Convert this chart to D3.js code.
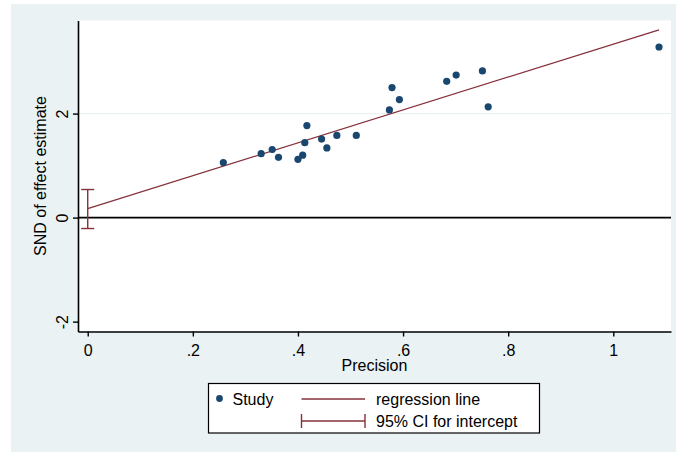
<!DOCTYPE html>
<html><head><meta charset="utf-8">
<script src="https://cdn.jsdelivr.net/npm/d3@7/dist/d3.min.js"></script>
<style>
html,body{margin:0;padding:0;background:#fff;}
svg text{font-family:"Liberation Sans",Arial,sans-serif;fill:#000;}
</style></head>
<body><svg id="c" width="676" height="452"></svg>
<script>
// Data
const precision = [0.258,0.330,0.351,0.363,0.400,0.409,0.413,0.417,0.445,0.455,0.474,0.511,0.574,0.579,0.593,0.683,0.701,0.751,0.762,1.087];
const snd       = [1.06,1.23,1.31,1.16,1.12,1.20,1.44,1.77,1.51,1.34,1.58,1.58,2.07,2.50,2.27,2.62,2.74,2.82,2.13,3.28];
const intercept = 0.173;
const slope = 3.163;
const ciIntercept = [-0.21, 0.54];
const xTicks = [0,0.2,0.4,0.6,0.8,1];
const xTickLabels = ["0",".2",".4",".6",".8","1"];
const yTicks = [-2,0,2];
const yTickLabels = ["-2","0","2"];
const gridValues = [2];
const legendLabels = ["Study","regression line","95% CI for intercept"];

const navy = "#1a476f", maroon = "#85303a";
const svg = d3.select("#c");
svg.append("rect").attr("x",11).attr("y",4).attr("width",665).attr("height",448).attr("fill","#eaf2f3");

const L=78, R=671, T=20.5, B=331.5;
const x = d3.scaleLinear().domain([-0.0185,1.1098]).range([L,R]);
const y = d3.scaleLinear().domain([-2.19,3.79]).range([B,T]);

svg.append("rect").attr("x",L).attr("y",T).attr("width",R-L).attr("height",B-T).attr("fill","#fff");

// gridline
svg.selectAll(".grid").data(gridValues).enter().append("line")
  .attr("x1",L).attr("x2",R).attr("y1",d=>y(d)).attr("y2",d=>y(d))
  .attr("stroke","#eaf2f3").attr("stroke-width",1.2);

// zero line
svg.append("line").attr("x1",L).attr("x2",R).attr("y1",y(0)).attr("y2",y(0))
  .attr("stroke","#000").attr("stroke-width",1.6);

// axes
const xAxis = d3.axisBottom(x).tickValues(xTicks).tickSize(5).tickSizeOuter(0)
  .tickFormat((d,i)=>xTickLabels[i]);
const gx = svg.append("g").attr("transform",`translate(0,${B})`).call(xAxis);
gx.select(".domain").attr("stroke","#000").attr("stroke-width",1.6);
gx.selectAll(".tick line").attr("stroke","#000").attr("stroke-width",1.4);
gx.selectAll(".tick text").attr("font-size",16).attr("dy",null).attr("y",24.5)
  .style("font-family","'Liberation Sans',Arial,sans-serif");

const yAxis = d3.axisLeft(y).tickValues(yTicks).tickSize(5).tickSizeOuter(0)
  .tickFormat((d,i)=>yTickLabels[i]);
const gy = svg.append("g").attr("transform",`translate(${L},0)`).call(yAxis);
gy.select(".domain").attr("stroke","#000").attr("stroke-width",1.6);
gy.selectAll(".tick line").attr("stroke","#000").attr("stroke-width",1.4);
gy.selectAll(".tick text").attr("font-size",16).attr("x",null).attr("dy",null)
  .attr("text-anchor","middle")
  .attr("transform","translate(-16,0) rotate(-90)")
  .attr("y",0).attr("dy","0.35em")
  .style("font-family","'Liberation Sans',Arial,sans-serif");

// axis titles
svg.append("text").attr("x",(L+R)/2).attr("y",371).attr("text-anchor","middle")
  .attr("font-size",16).text("Precision");
svg.append("text").attr("transform",`translate(45.5,${(T+B)/2}) rotate(-90)`)
  .attr("text-anchor","middle").attr("font-size",16).text("SND of effect estimate");

// regression line
const xmax = d3.max(precision);
svg.append("line").attr("x1",x(0)).attr("x2",x(xmax))
  .attr("y1",y(intercept)).attr("y2",y(intercept+slope*xmax))
  .attr("stroke",maroon).attr("stroke-width",1.3);

// CI for intercept
const cg = svg.append("g").attr("stroke",maroon).attr("stroke-width",1.4);
cg.append("line").attr("x1",x(0)).attr("x2",x(0)).attr("y1",y(ciIntercept[0])).attr("y2",y(ciIntercept[1]));
ciIntercept.forEach(v=>{
  cg.append("line").attr("x1",x(0)-6.5).attr("x2",x(0)+6.5).attr("y1",y(v)).attr("y2",y(v));
});

// points
svg.selectAll(".pt").data(precision).enter().append("circle")
  .attr("cx",d=>x(d)).attr("cy",(d,i)=>y(snd[i])).attr("r",3.6).attr("fill",navy);

// legend
const lg = svg.append("g");
lg.append("rect").attr("x",208.5).attr("y",383.5).attr("width",331).attr("height",49.5)
  .attr("fill","#fff").attr("stroke","#000").attr("stroke-width",1.2);
lg.append("circle").attr("cx",219.5).attr("cy",398.5).attr("r",3.4).attr("fill",navy);
lg.append("text").attr("x",232.5).attr("y",405).attr("font-size",16).text(legendLabels[0]);
lg.append("line").attr("x1",301.5).attr("x2",365).attr("y1",399).attr("y2",399)
  .attr("stroke",maroon).attr("stroke-width",1.3);
lg.append("text").attr("x",376).attr("y",405).attr("font-size",16).text(legendLabels[1]);
const lc = lg.append("g").attr("stroke",maroon).attr("stroke-width",1.4);
lc.append("line").attr("x1",301.5).attr("x2",365).attr("y1",421).attr("y2",421);
lc.append("line").attr("x1",301.5).attr("x2",301.5).attr("y1",414).attr("y2",428);
lc.append("line").attr("x1",365).attr("x2",365).attr("y1",414).attr("y2",428);
lg.append("text").attr("x",376).attr("y",427).attr("font-size",16).text(legendLabels[2]);
</script></body></html>
